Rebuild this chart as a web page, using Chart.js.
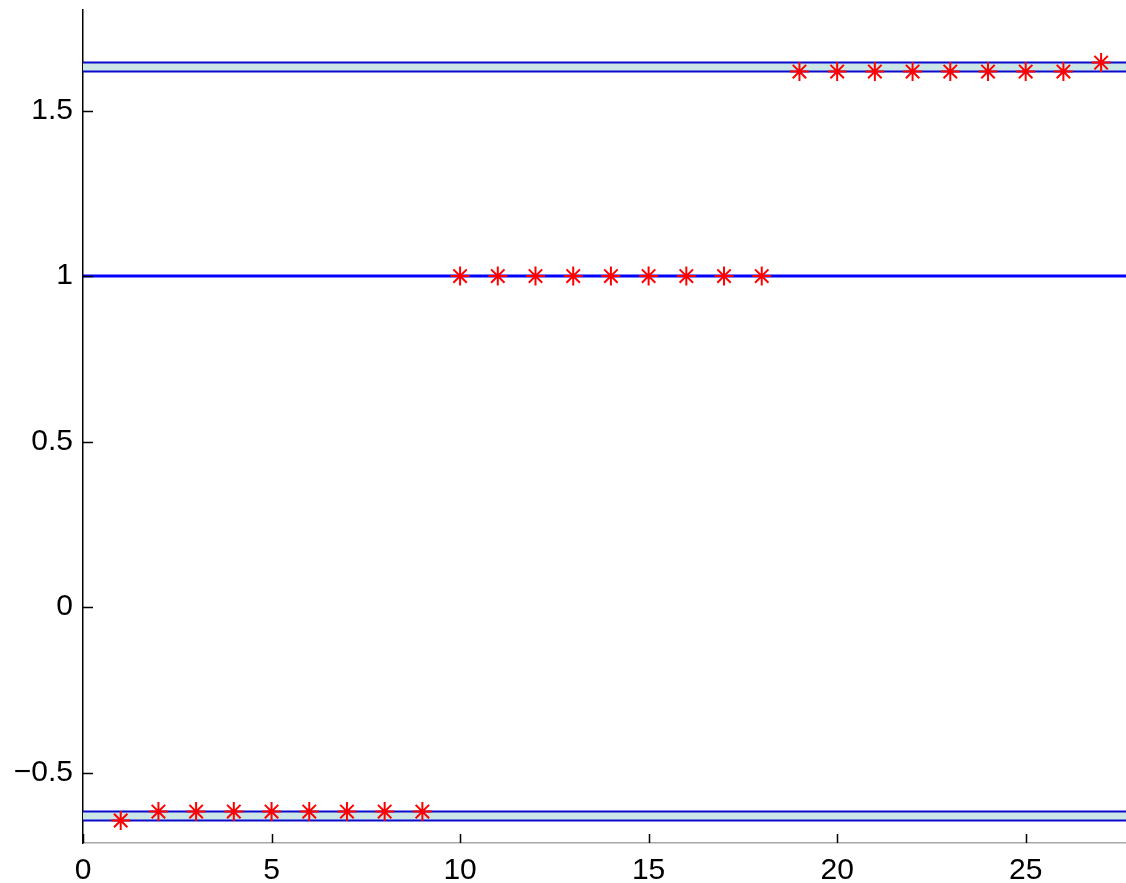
<!DOCTYPE html>
<html>
<head>
<meta charset="utf-8">
<script src="https://cdn.jsdelivr.net/npm/chart.js@4/dist/chart.umd.min.js"></script>
<style>
  body { margin: 0; background: #fff; }
  canvas { display: block; }
</style>
</head>
<body>
<canvas id="chart" width="1126" height="883"></canvas>
<script>
// axis ranges and tick values
const xRange = [0, 27.66];
const yRange = [-0.713, 1.804];
const xTicks = [0, 5, 10, 15, 20, 25];
const yTicks = [-0.5, 0, 0.5, 1, 1.5];

// horizontal reference levels
const upperBand = [1.618, 1.645];
const middleLine = 1;
const lowerBand = [-0.645, -0.618];

// iterates (red asterisks)
const pointX = [1, 2, 3, 4, 5, 6, 7, 8, 9, 10, 11, 12, 13, 14, 15, 16, 17, 18, 19, 20, 21, 22, 23, 24, 25, 26, 27];
const pointY = [
    -0.645, -0.618, -0.618, -0.618, -0.618, -0.618, -0.618, -0.618, -0.618,
    1, 1, 1, 1, 1, 1, 1, 1, 1,
    1.618, 1.618, 1.618, 1.618, 1.618, 1.618, 1.618, 1.618, 1.645
];

const bandLine = '#0a0acc';
const bandFill = '#cce6e6';
const labelFont = { family: '"Liberation Sans", Arial, sans-serif', size: 30 };

function hline(y) {
    return [{ x: xRange[0], y: y }, { x: xRange[1], y: y }];
}

const lineStyle = { showLine: true, pointRadius: 0, borderColor: bandLine, borderWidth: 2 };

// inward tick marks, drawn from the library scales
const innerTicks = {
    id: 'innerTicks',
    afterDraw(chart) {
        const ctx = chart.ctx;
        const area = chart.chartArea;
        const xs = chart.scales.x;
        const ys = chart.scales.y;
        ctx.save();
        ctx.strokeStyle = '#000';
        ctx.lineWidth = 1.5;
        ctx.beginPath();
        xTicks.forEach(v => {
            const px = Math.round(xs.getPixelForValue(v)) + 0.5;
            ctx.moveTo(px, area.bottom);
            ctx.lineTo(px, area.bottom - 9);
        });
        yTicks.forEach(v => {
            const py = Math.round(ys.getPixelForValue(v)) + 0.5;
            ctx.moveTo(area.left, py);
            ctx.lineTo(area.left + 10, py);
        });
        ctx.stroke();
        ctx.restore();
    }
};

new Chart(document.getElementById('chart').getContext('2d'), {
    type: 'scatter',
    data: {
        // first dataset is drawn last, so the asterisks sit on top
        datasets: [
            {
                data: pointX.map((x, i) => ({ x: x, y: pointY[i] })),
                showLine: false,
                pointStyle: 'star',
                pointRadius: 9.5,
                pointBorderWidth: 2,
                borderColor: '#ff0000',
                backgroundColor: '#ff0000',
                clip: false
            },
            { data: hline(middleLine), showLine: true, pointRadius: 0, borderColor: '#0000ff', borderWidth: 3, fill: false },
            Object.assign({ data: hline(upperBand[0]), fill: false }, lineStyle),
            Object.assign({ data: hline(upperBand[1]), fill: '-1', backgroundColor: bandFill }, lineStyle),
            Object.assign({ data: hline(lowerBand[0]), fill: false }, lineStyle),
            Object.assign({ data: hline(lowerBand[1]), fill: '-1', backgroundColor: bandFill }, lineStyle)
        ]
    },
    options: {
        responsive: false,
        animation: false,
        events: [],
        layout: { autoPadding: false, padding: { top: 10, right: 0, bottom: 0, left: 0 } },
        plugins: { legend: { display: false }, tooltip: { enabled: false } },
        scales: {
            x: {
                type: 'linear',
                min: xRange[0],
                max: xRange[1],
                afterBuildTicks: s => { s.ticks = xTicks.map(v => ({ value: v })); },
                afterFit: s => { s.height = 40; s.paddingLeft = 0; s.paddingRight = 0; },
                grid: { display: false, drawTicks: false },
                border: { display: true, color: '#a8a8a8', width: 1.5 },
                ticks: { color: '#000', font: labelFont, padding: 10, maxRotation: 0 }
            },
            y: {
                type: 'linear',
                min: yRange[0],
                max: yRange[1],
                afterBuildTicks: s => { s.ticks = yTicks.map(v => ({ value: v })); },
                afterFit: s => { s.width = 83; s.paddingTop = 0; s.paddingBottom = 0; },
                grid: { display: false, drawTicks: false },
                border: { display: true, color: '#000', width: 1.5 },
                ticks: {
                    color: '#000',
                    font: labelFont,
                    padding: 10,
                    callback: v => String(v).replace('-', '\u2212')
                }
            }
        }
    },
    plugins: [innerTicks]
});
</script>
</body>
</html>
